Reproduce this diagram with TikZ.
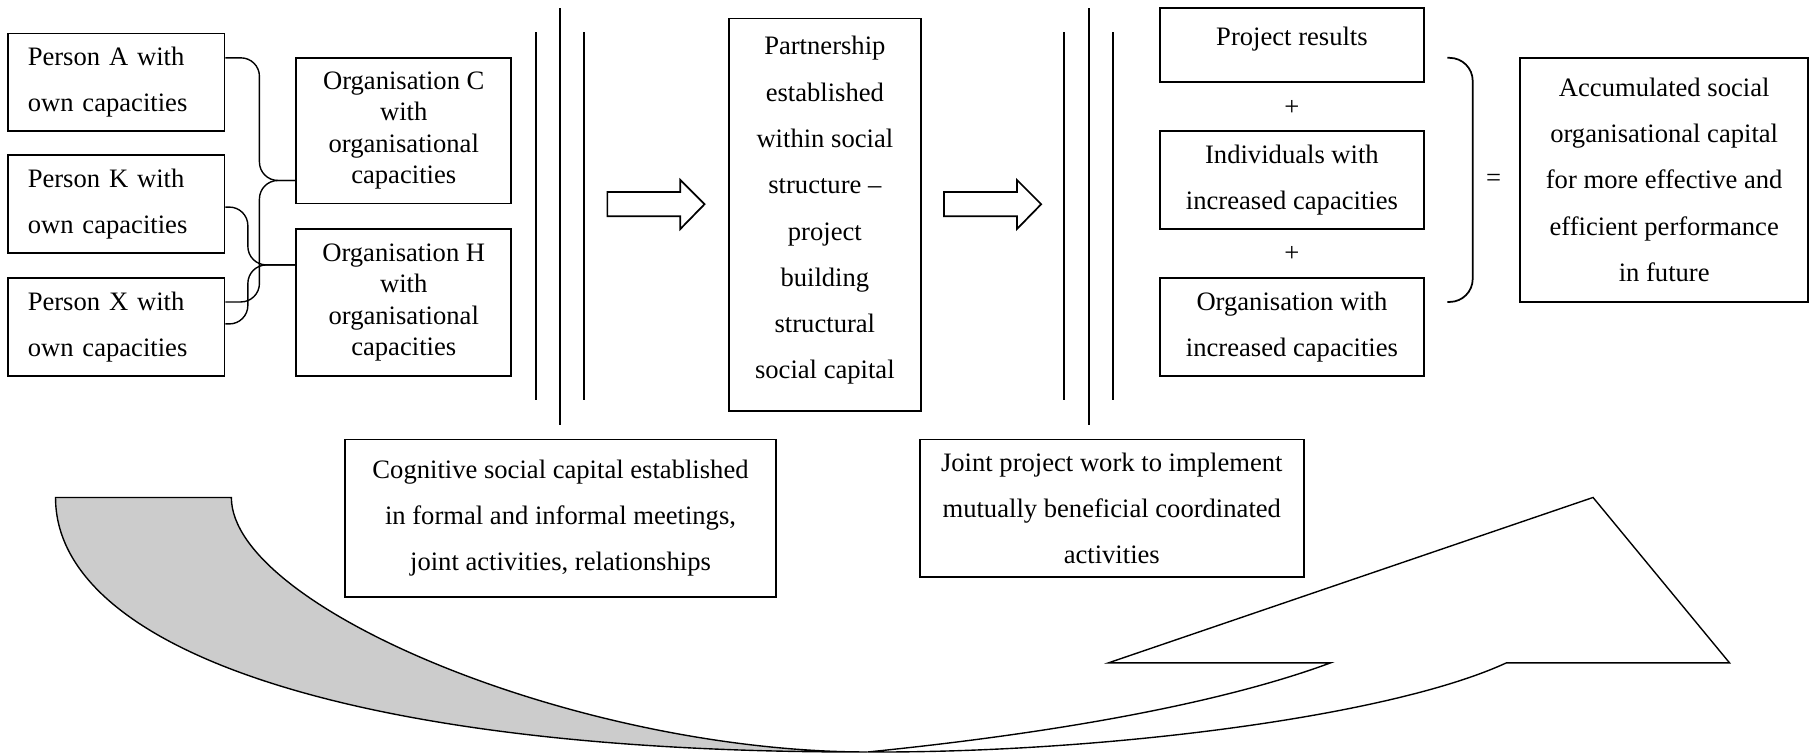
\documentclass[tikz,border=0pt]{standalone}
\usepackage{fontspec}
\setmainfont{Liberation Serif}
\usetikzlibrary{calc}
\begin{document}
\begin{tikzpicture}[x=0.5pt,y=-0.5pt,
  box/.style={draw, line width=0.75pt, inner sep=0pt, align=center, font=\fontsize{11.5}{20}\selectfont},
  personbox/.style={box, align=left, text width=76.5pt, minimum width=93.5pt},
  tight/.style={font=\fontsize{11.5}{13.6}\selectfont},
  conn/.style={line width=0.6pt, rounded corners=8pt},
  vline/.style={line width=0.75pt},
  blockarrow/.style={draw, line width=0.75pt, fill=white, line join=miter},
  sign/.style={inner sep=0pt, font=\fontsize{11.5}{14}\selectfont}
]
\useasboundingbox (0,0) rectangle (1568,653);

% big curved arrow
\filldraw[fill=gray!40, line width=0.6pt] (48,430) -- (200,430)
  .. controls (200,525) and (500,650) .. (750,650)
  .. controls (300,651) and (48,560) .. (48,430) -- cycle;
\filldraw[fill=white, line width=0.6pt] (750,650)
  .. controls (950,651) and (1200,620) .. (1302,573)
  -- (1495,573) -- (1377,430) -- (958,573) -- (1150,573)
  .. controls (1050,610) and (900,635) .. (750,650) -- cycle;

% persons
\node[personbox, minimum height=42pt] (pa) at (100.5,71) {Person A with\\own capacities};
\node[personbox, minimum height=42.5pt] (pk) at (100.5,176.5) {Person K with\\own capacities};
\node[personbox, minimum height=42.5pt] (px) at (100.5,282.5) {Person X with\\own capacities};

% organisations
\node[box, tight, minimum width=93pt, minimum height=63pt] (oc) at (349,113) {Organisation C\\with\\organisational\\capacities};
\node[box, tight, minimum width=93pt, minimum height=63.5pt] (oh) at (349,261.5) {Organisation H\\with\\organisational\\capacities};

% connectors
\draw[conn] ($(pa.east)+(0,-21)$) -| ($(oc.west)+(-31,43)$) -- ($(oc.west)+(0,43)$);
\draw[conn] ($(px.east)+(0,-21.5)$) -| ($(oc.west)+(-31,43)$) -- ($(oc.west)+(0,43)$);
\draw[conn] ($(pk.east)+(0,2.5)$) -| ($(oh.west)+(-41,-32.5)$) -- ($(oh.west)+(0,-32.5)$);
\draw[conn] ($(px.east)+(0,-2.5)$) -| ($(oh.west)+(-41,-32.5)$) -- ($(oh.west)+(0,-32.5)$);

% vertical lines group 1
\draw[vline] (463,28) -- (463,346);
\draw[vline] (484,7) -- (484,367);
\draw[vline] (505,28) -- (505,346);

% block arrow 1
\draw[blockarrow] (525,166) -- (588,166) -- (588,155.5) -- (609,176.5) -- (588,198) -- (588,187) -- (525,187) -- cycle;

% partnership
\node[box, minimum width=83pt, minimum height=169.5pt, text depth=6pt] (ps) at (713,185.5) {Partnership\\established\\within social\\structure --\\project\\building\\structural\\social capital};

% block arrow 2
\draw[blockarrow] (816,166) -- (879,166) -- (879,155.5) -- (900,176.5) -- (879,198) -- (879,187) -- (816,187) -- cycle;

% vertical lines group 2
\draw[vline] (920,28) -- (920,346);
\draw[vline] (941,7) -- (941,367);
\draw[vline] (962,28) -- (962,346);

% results
\node[box, minimum width=114.25pt, minimum height=32pt, text height=16pt, text depth=16pt] (pr) at (1116.75,39) {Project results};
\node[sign] (plus1) at (1116.75,93) {+};
\node[box, minimum width=114.25pt, minimum height=42.5pt] (ind) at (1116.75,155.5) {Individuals with\\increased capacities};
\node[sign] (plus2) at (1116.75,219.5) {+};
\node[box, minimum width=114.25pt, minimum height=42.5pt] (org) at (1116.75,282.5) {Organisation with\\increased capacities};

% brace
\draw[line width=0.75pt, rounded corners=10pt] (1251,50) -- (1273,50) -- (1273,261) -- (1251,261);
\node[sign] (eq) at (1291,156) {=};

% accumulated
\node[box, minimum width=124.5pt, minimum height=105.5pt] (acc) at (1438.5,155.5) {Accumulated social\\organisational capital\\for more effective and\\efficient performance\\in future};

% bottom boxes
\node[box, minimum width=186.5pt, minimum height=68pt] (cog) at (484.5,448) {Cognitive social capital established\\in formal and informal meetings,\\joint activities, relationships};
\node[box, minimum width=166pt, minimum height=59.5pt] (jnt) at (961,439.5) {Joint project work to implement\\mutually beneficial coordinated\\activities};
\end{tikzpicture}
\end{document}
